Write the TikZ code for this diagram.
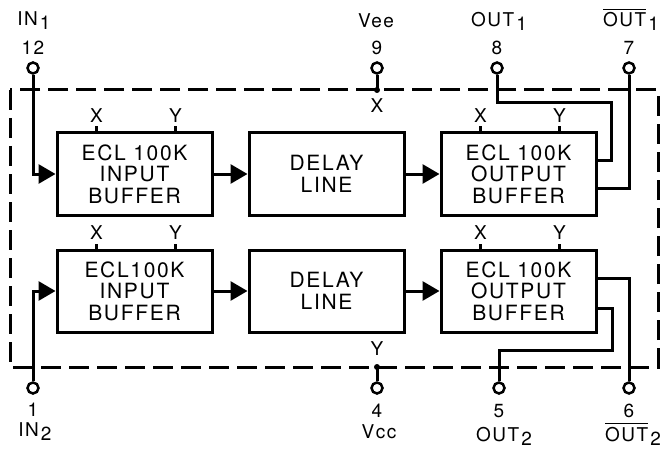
\documentclass[tikz,border=0pt]{standalone}
\usepackage{fontspec}
\setmainfont{TeX Gyre Heros}[LetterSpace=8]
\usetikzlibrary{arrows.meta,positioning,calc}
\tikzset{
  buf/.style  ={draw,line width=3pt,minimum width=155pt,minimum height=82pt,
                align=center,inner sep=0pt,font=\fontsize{21}{21.5}\selectfont},
  wire/.style ={line width=3pt},
  sig/.style  ={line width=3pt,-{Triangle[length=17pt,width=19pt]}},
  term/.style ={draw,circle,line width=2.5pt,fill=white,minimum size=11pt,inner sep=0pt},
  lbl/.style  ={inner sep=0pt,anchor=base,font=\fontsize{19}{19}\selectfont},
  frame/.style={line width=3pt,dash pattern=on 20pt off 8pt},
  tick/.style ={line width=2.5pt},
}
\newcommand{\sbs}[1]{\kern2pt\raisebox{-4pt}{#1}}
\newcommand{\ovl}[1]{\setbox0=\hbox{#1}\rlap{\rule[\dimexpr\ht0+2.5pt\relax]{\wd0}{1.8pt}}\box0}

\begin{document}
\begin{tikzpicture}[x=1pt,y=-1pt,node distance=32pt and 34pt]
\useasboundingbox (0,0) rectangle (668,449);
\draw[frame] (10,90) rectangle (658,367);
\node[buf] (ib1) at (134.5,174) {ECL 100K\\INPUT\\BUFFER};
\node[buf, right=of ib1] (dl1) {DELAY\\LINE};
\node[buf, right=of dl1] (ob1) {ECL 100K\\OUTPUT\\BUFFER};
\node[buf, below=of ib1] (ib2) {ECL100K\\INPUT\\BUFFER};
\node[buf, right=of ib2] (dl2) {DELAY\\LINE};
\node[buf, right=of dl2] (ob2) {ECL 100K\\OUTPUT\\BUFFER};
\draw[sig] (ib1) -- (dl1); \draw[sig] (dl1) -- (ob1);
\draw[sig] (ib2) -- (dl2); \draw[sig] (dl2) -- (ob2);
\foreach \b in {ib1,ob1,ib2,ob2}{
  \draw[tick] ($(\b.north west)+(41,0)$) -- ++(0,-5);
  \draw[tick] ($(\b.north west)+(120,0)$) -- ++(0,-5);
  \node[lbl] (\b-x) at ($(\b.north west)+(41,-9)$) {X};
  \node[lbl] (\b-y) at ($(\b.north west)+(120,-9)$) {Y};
}
\node[term] (p12) at (33,68) {};
\node[term] (p9) at (377,68) {};
\node[term] (p8) at (497,68) {};
\node[term] (p7) at (629,68) {};
\node[term] (p1) at (33,388) {};
\node[term] (p4) at (377,388) {};
\node[term] (p5) at (499,388) {};
\node[term] (p6) at (629,388) {};
\coordinate (j9) at (377,90);
\coordinate (j4) at (377,367);
\draw[sig] (p12.south) |- (ib1.west);
\draw[sig] (p1.north) |- (ib2.west);
\draw[wire] (p9.south) -- (j9); \fill (j9) circle (3pt);
\draw[wire] (p4.north) -- (j4); \fill (j4) circle (3pt);
\draw[wire] (p8.south) |- (611,103) |- ($(ob1.east)+(0,-14)$);
\draw[wire] (p7.south) |- ($(ob1.east)+(0,14)$);
\draw[wire] (p6.north) |- ($(ob2.east)+(0,-13)$);
\draw[wire] (p5.north) |- (612,350) |- ($(ob2.east)+(0,17)$);
\node[lbl] (xv) at (377,113) {X};
\node[lbl] (yv) at (377,355) {Y};
\node[lbl] (n12) at (33,55) {12};
\node[lbl] (n9) at (377,55) {9};
\node[lbl] (n8) at (497,55) {8};
\node[lbl] (n7) at (629,55) {7};
\node[lbl] (t12) at (34,26) {IN\sbs{1}};
\node[lbl] (t9) at (376,28) {Vee};
\node[lbl] (t8) at (499,27) {OUT\sbs{1}};
\node[lbl] (t7) at (631,27) {\ovl{OUT}\sbs{1}};
\node[lbl] (n1) at (33,416) {1};
\node[lbl] (n4) at (377,417) {4};
\node[lbl] (n5) at (499,417) {5};
\node[lbl] (n6) at (629,417) {6};
\node[lbl] (t1) at (35,436) {IN\sbs{2}};
\node[lbl] (t4) at (379,438) {Vcc};
\node[lbl] (t5) at (504,441) {OUT\sbs{2}};
\node[lbl] (t6) at (633,441) {\ovl{OUT}\sbs{2}};
\end{tikzpicture}
\end{document}
